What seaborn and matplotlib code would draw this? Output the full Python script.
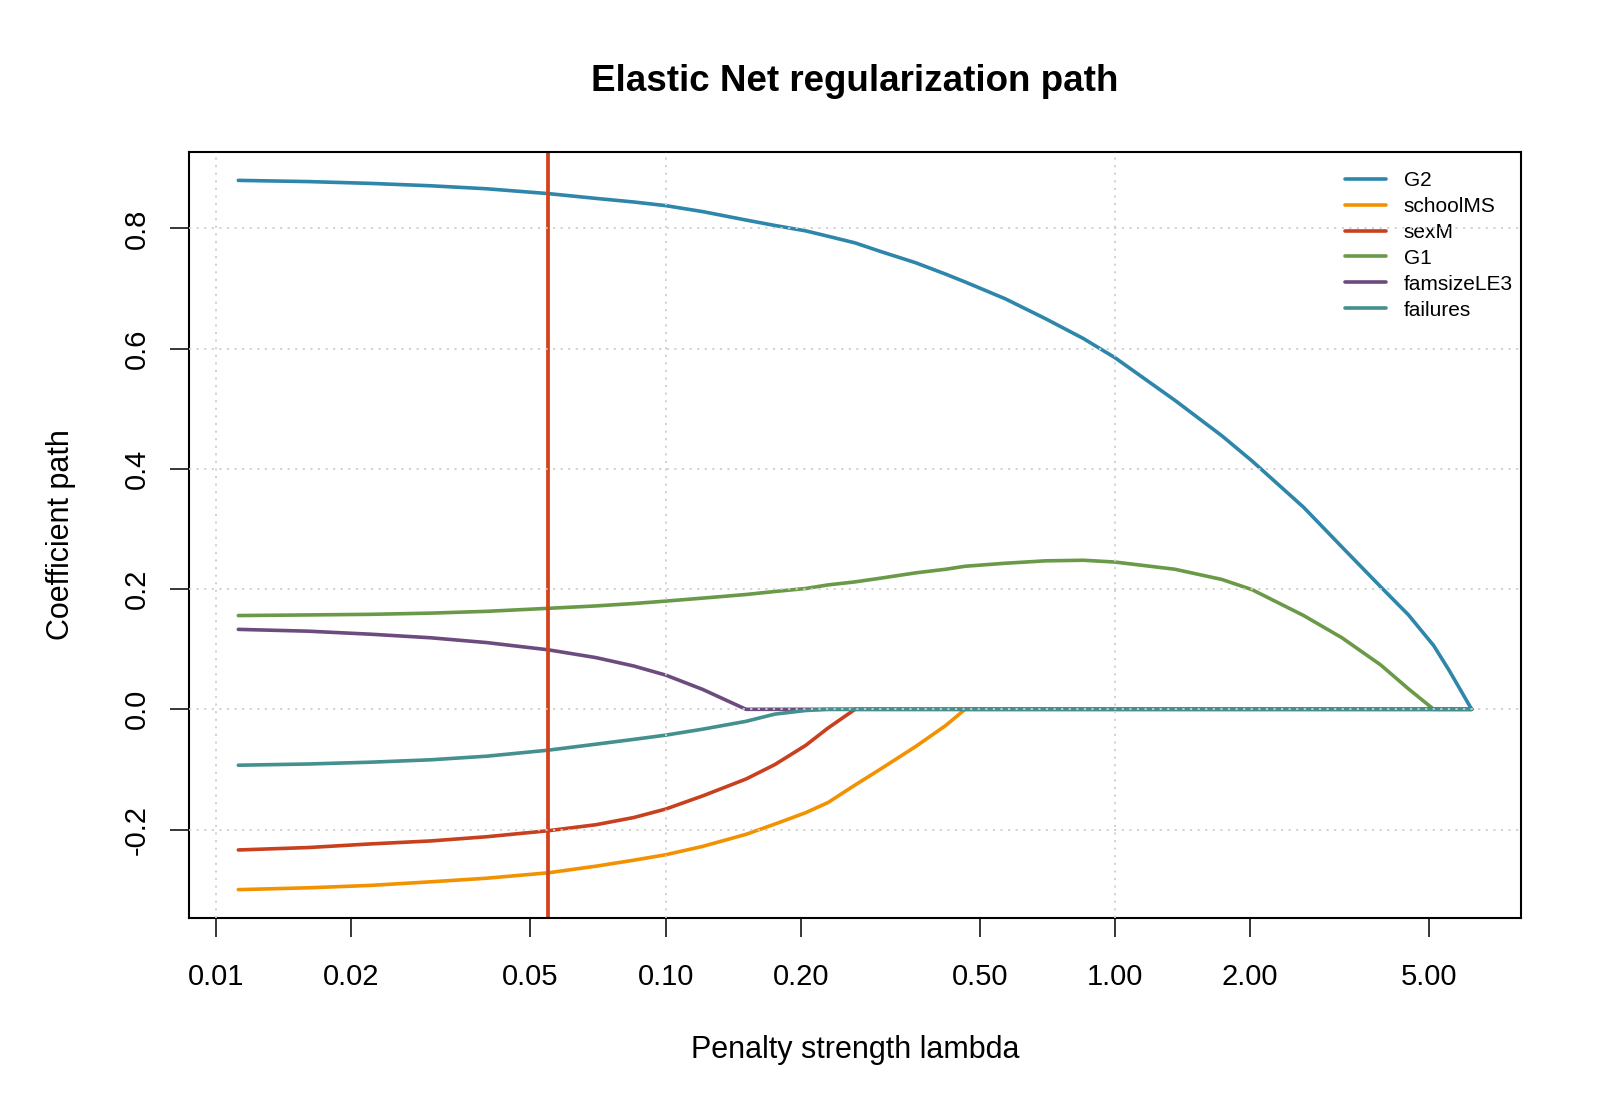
import numpy as np
import pandas as pd
import matplotlib
matplotlib.use("Agg")
import matplotlib.pyplot as plt
from matplotlib.ticker import FixedLocator, FixedFormatter
import seaborn as sns

# ---- data ----
lambdas = [0.0112, 0.016, 0.022, 0.030, 0.040, 0.0548, 0.070, 0.085, 0.100, 0.121,
           0.151, 0.175, 0.205, 0.230, 0.264, 0.300, 0.360, 0.420, 0.464, 0.57,
           0.70, 0.85, 1.00, 1.36, 1.73, 2.02, 2.63, 3.20, 3.90, 4.50,
           5.12, 5.55, 6.22]

g2 = [0.880, 0.878, 0.875, 0.871, 0.866, 0.858, 0.850, 0.844, 0.838, 0.828,
      0.814, 0.805, 0.796, 0.787, 0.776, 0.762, 0.743, 0.724, 0.711, 0.683,
      0.650, 0.617, 0.585, 0.514, 0.455, 0.413, 0.336, 0.270, 0.204, 0.157,
      0.106, 0.064, 0.0]
school_ms = [-0.300, -0.297, -0.293, -0.287, -0.281, -0.272, -0.261, -0.251, -0.242, -0.228,
             -0.208, -0.191, -0.172, -0.155, -0.126, -0.100, -0.062, -0.027, 0.0, 0.0,
             0.0, 0.0, 0.0, 0.0, 0.0, 0.0, 0.0, 0.0, 0.0, 0.0,
             0.0, 0.0, 0.0]
sex_m = [-0.234, -0.230, -0.224, -0.219, -0.212, -0.202, -0.192, -0.180, -0.166, -0.144,
         -0.116, -0.092, -0.060, -0.031, 0.0, 0.0, 0.0, 0.0, 0.0, 0.0,
         0.0, 0.0, 0.0, 0.0, 0.0, 0.0, 0.0, 0.0, 0.0, 0.0,
         0.0, 0.0, 0.0]
g1 = [0.156, 0.157, 0.158, 0.160, 0.163, 0.168, 0.172, 0.176, 0.180, 0.185,
      0.191, 0.196, 0.201, 0.207, 0.212, 0.218, 0.227, 0.233, 0.238, 0.243,
      0.247, 0.248, 0.245, 0.233, 0.216, 0.199, 0.156, 0.119, 0.074, 0.034,
      0.0, 0.0, 0.0]
famsize_le3 = [0.133, 0.130, 0.125, 0.119, 0.111, 0.099, 0.086, 0.072, 0.057, 0.033,
               0.0, 0.0, 0.0, 0.0, 0.0, 0.0, 0.0, 0.0, 0.0, 0.0,
               0.0, 0.0, 0.0, 0.0, 0.0, 0.0, 0.0, 0.0, 0.0, 0.0,
               0.0, 0.0, 0.0]
failures = [-0.093, -0.091, -0.088, -0.084, -0.078, -0.068, -0.058, -0.050, -0.043, -0.033,
            -0.020, -0.008, -0.002, 0.0, 0.0, 0.0, 0.0, 0.0, 0.0, 0.0,
            0.0, 0.0, 0.0, 0.0, 0.0, 0.0, 0.0, 0.0, 0.0, 0.0,
            0.0, 0.0, 0.0]

series_names = ["G2", "schoolMS", "sexM", "G1", "famsizeLE3", "failures"]
series_values = [g2, school_ms, sex_m, g1, famsize_le3, failures]
series_colors = ["#2E86AB", "#F39200", "#C8401E", "#6A9A48", "#6C4C7E", "#43908E"]

lambda_min = 0.0548

x_ticks = [0.01, 0.02, 0.05, 0.10, 0.20, 0.50, 1.00, 2.00, 5.00]
x_tick_labels = ["0.01", "0.02", "0.05", "0.10", "0.20", "0.50", "1.00", "2.00", "5.00"]
y_ticks = [-0.2, 0.0, 0.2, 0.4, 0.6, 0.8]
y_tick_labels = ["-0.2", "0.0", "0.2", "0.4", "0.6", "0.8"]

title = "Elastic Net regularization path"
x_label = "Penalty strength lambda"
y_label = "Coefficient path"

# ---- figure ----
sns.set_style("white")
plt.rcParams["font.family"] = ["Liberation Sans", "DejaVu Sans"]
plt.rcParams["text.color"] = "black"
plt.rcParams["axes.labelcolor"] = "black"
plt.rcParams["xtick.color"] = "black"
plt.rcParams["ytick.color"] = "black"

fig = plt.figure(figsize=(16, 11.08), dpi=100)
ax = fig.add_axes([189 / 1600, 1 - 918 / 1108, 1332 / 1600, 766 / 1108])

df = pd.DataFrame({"lambda": np.tile(lambdas, len(series_names)),
                   "coef": np.concatenate(series_values),
                   "variable": np.repeat(series_names, len(lambdas))})

for name, color in zip(series_names, series_colors):
    sub = df[df["variable"] == name]
    sns.lineplot(data=sub, x="lambda", y="coef", ax=ax, color=color,
                 linewidth=2.6, label=name, legend=False, zorder=2)

ax.set_xscale("log")
ax.margins(x=0.04, y=0.04)
ax.axvline(lambda_min, color="#D2421B", linewidth=2.7, zorder=2.1)

# ticks: labelled ticks everywhere, grid only at decades
major = [t for t in x_ticks if np.isclose(np.log10(t), round(np.log10(t)))]
minor = [t for t in x_ticks if t not in major]
ax.xaxis.set_major_locator(FixedLocator(major))
ax.xaxis.set_major_formatter(FixedFormatter([x_tick_labels[x_ticks.index(t)] for t in major]))
ax.xaxis.set_minor_locator(FixedLocator(minor))
ax.xaxis.set_minor_formatter(FixedFormatter([x_tick_labels[x_ticks.index(t)] for t in minor]))
ax.set_yticks(y_ticks)
ax.set_yticklabels(y_tick_labels, rotation=90, va="center")

for which in ("major", "minor"):
    ax.tick_params(axis="x", which=which, direction="out", length=13.5, width=1.1,
                   color="black", labelcolor="black", labelsize=21, pad=19, bottom=True)
ax.tick_params(axis="y", direction="out", length=13.5, width=1.1, color="black",
               labelcolor="black", labelsize=21, pad=14, left=True)

ax.set_axisbelow(False)
ax.grid(True, which="major", axis="both", color="#CFCFCF",
        linestyle=(0, (1.2, 3)), linewidth=1.3)
ax.grid(False, which="minor")

for s in ax.spines.values():
    s.set_color("black")
    s.set_linewidth(1.5)

ax.set_xlabel(x_label, fontsize=22, color="black")
ax.xaxis.set_label_coords(0.5, -0.172)
ax.xaxis.label.set_va("center")
ax.set_ylabel(y_label, fontsize=22, color="black")
ax.yaxis.set_label_coords(-0.096, 0.5)
ax.yaxis.label.set_va("center")

ax.set_title(title, fontsize=26.5, fontweight="bold", y=1.081, va="center", color="black")

handles = ax.get_lines()[:len(series_names)]
leg = ax.legend(handles, series_names, loc="upper left",
                bbox_to_anchor=(0.868, 0.975), frameon=False, fontsize=15,
                borderaxespad=0, borderpad=0, labelspacing=0.33,
                handlelength=1.95, handletextpad=0.85)
for t in leg.get_texts():
    t.set_color("black")
leg.set_zorder(1)

fig.savefig("out.png", dpi=100, facecolor="white")
